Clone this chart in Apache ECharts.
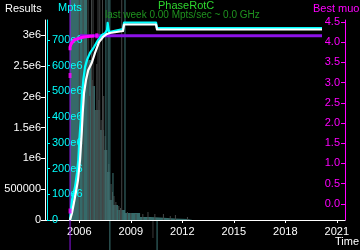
<!DOCTYPE html>
<html><head><meta charset="utf-8">
<script src="https://cdn.jsdelivr.net/npm/echarts@6/dist/echarts.min.js"></script>
<style>html,body{margin:0;padding:0;background:#000}#c{width:360px;height:250px}</style>
</head><body><div id="c"></div>
<script>
// ---- tick labels ----
const yearTicks = [2006, 2009, 2012, 2015, 2018, 2021];
const resultsTicks = [0, 500000, 1000000, 1500000, 2000000, 2500000, 3000000];
const resultsTickLabels = ['0', '500000', '1e6', '1.5e6', '2e6', '2.5e6', '3e6'];
const mptsTicks = [0, 100e6, 200e6, 300e6, 400e6, 500e6, 600e6, 700e6];
const mptsTickLabels = ['0', '100e6', '200e6', '300e6', '400e6', '500e6', '600e6', '700e6'];
const muonTicks = [0, 0.5, 1, 1.5, 2, 2.5, 3, 3.5, 4, 4.5];
const muonTickLabels = ['0.0', '0.5', '1.0', '1.5', '2.0', '2.5', '3.0', '3.5', '4.0', '4.5'];

// ---- cumulative results (white) [year, results] ----
const resultsData = [
  [2005.457, 0], [2005.573, 114000], [2005.748, 374000], [2005.923, 650000],
  [2006.040, 975000], [2006.139, 1414000], [2006.197, 1739000], [2006.273, 2064000],
  [2006.389, 2275000], [2006.523, 2438000], [2006.721, 2551000], [2006.914, 2714000],
  [2007.147, 2890000], [2007.380, 2974000], [2007.613, 3023000], [2007.788, 3039000],
  [2008.545, 3071000], [2008.604, 3177000], [2010.469, 3177000], [2010.527, 3096000],
  [2020.140, 3096000]
];
// ---- cumulative Mpts (cyan) [year, points] ----
const mptsData = [
  [2005.457, 0], [2005.573, 77.7e6], [2005.748, 128e6], [2005.865, 183e6],
  [2005.941, 233e6], [2005.999, 311e6], [2006.080, 389e6], [2006.139, 466e6],
  [2006.232, 544e6], [2006.331, 594e6], [2006.448, 622e6], [2006.622, 649e6],
  [2006.855, 672e6], [2007.089, 699e6], [2007.322, 719e6], [2007.497, 726e6],
  [2007.613, 738e6], [2007.650, 766e6], [2007.690, 766e6], [2007.730, 730e6],
  [2008.545, 742e6], [2008.604, 767e6], [2010.469, 767e6], [2010.527, 746e6],
  [2020.140, 746e6]
];
// ---- best muon ----
const muonBestLine = [[2006.04, 4.16], [2020.14, 4.16]];          // purple
const muonStartLine = [[2005.46, 9], [2005.46, -9]];              // purple vertical
const muonCurve = [
  [2005.46, 3.80], [2005.46, 3.88], [2005.52, 3.956], [2005.57, 4.005], [2005.69, 4.055],
  [2005.86, 4.08], [2006.04, 4.104], [2006.27, 4.129], [2006.51, 4.141], [2006.86, 4.154]
];
const muonPoints = [[2005.46, -0.177], [2005.46, 3.176], [2007.02, 4.16]];

// ---- activity histogram (relative, 100 = top of plot) ----
const activityArea = [
  [2005.45, 110], [2006.45, 80], [2006.69, 67], [2006.91, 55], [2007.21, 45],
  [2007.44, 35], [2007.62, 24], [2007.76, 10], [2007.96, 7.5], [2008.25, 5],
  [2008.66, 3.5], [2009.54, 1.5], [2010.12, 1.2], [2010.70, 0.8], [2011.58, 0.5],
  [2012.30, 0.3], [2012.60, 0]
];
const activityGray = [
  [2006.00, 110], [2006.22, 110], [2006.51, 110], [2006.60, 62], [2006.71, 110],
  [2006.75, 70], [2006.80, 110], [2006.93, 55], [2007.02, 78], [2007.09, 110],
  [2007.14, 60], [2007.19, 110], [2007.27, 50], [2007.35, 110], [2007.42, 62],
  [2007.50, 42], [2007.60, 35], [2007.72, 28], [2007.85, 18], [2007.93, 14],
  [2008.02, 12], [2008.13, 9], [2008.30, 7], [2008.40, 6], [2008.47, 110],
  [2008.80, 4], [2009.00, 3.5], [2009.30, 3], [2009.70, 3], [2010.00, 4],
  [2010.40, 3], [2010.90, 3], [2011.30, 2], [2011.60, 2.5], [2012.30, 1.5]
];
const activityTealUp = [
  [2007.55, 110], [2007.68, 110], [2007.78, 110], [2007.96, 23.5], [2008.66, 110]
];
const activityTealDown = [[2007.78, -15], [2010.53, -15]];
const activityGrayDown = [[2010.29, -9]];

const FONT = 'Liberation Sans';
const chart = echarts.init(document.getElementById('c'));
const fmt = (ticks, labels) => (v) => { const i = ticks.findIndex(t => Math.abs(t - v) < 1e-6 * Math.max(1, Math.abs(t))); return i >= 0 ? labels[i] : ''; };

chart.setOption({
  backgroundColor: '#000',
  animation: false,
  grid: { left: 45, right: 15, top: 20, bottom: 30 },
  xAxis: {
    type: 'value', min: 2004, max: 2021.48, z: 3,
    axisLine: { onZero: false, lineStyle: { color: '#fff', width: 1 } },
    axisTick: { show: true, length: 3, customValues: yearTicks, lineStyle: { color: '#fff' } },
    axisLabel: { customValues: yearTicks, margin: 6, color: '#fff', fontFamily: FONT, fontSize: 11, formatter: v => String(Math.round(v)) },
    splitLine: { show: false }
  },
  yAxis: [
    { type: 'value', position: 'left', min: 0, max: 3250000, z: 3,
      axisLine: { show: true, onZero: false, lineStyle: { color: '#fff' } },
      axisTick: { show: true, length: 4, customValues: resultsTicks, lineStyle: { color: '#fff' } },
      axisLabel: { customValues: resultsTicks, margin: 4, color: '#fff', fontFamily: FONT, fontSize: 11, formatter: fmt(resultsTicks, resultsTickLabels) },
      splitLine: { show: false } },
    { type: 'value', position: 'left', offset: -2, min: 0, max: 777e6, z: 3,
      axisLine: { show: true, onZero: false, lineStyle: { color: '#00ffff' } },
      axisTick: { show: true, inside: true, length: 3, customValues: mptsTicks, lineStyle: { color: '#00ffff' } },
      axisLabel: { inside: true, customValues: mptsTicks, margin: 5, color: '#00ffff', fontFamily: FONT, fontSize: 11, formatter: fmt(mptsTicks, mptsTickLabels) },
      splitLine: { show: false } },
    { type: 'value', position: 'right', min: -0.4, max: 4.55, z: 3,
      axisLine: { show: true, onZero: false, lineStyle: { color: '#ff00ff' } },
      axisTick: { show: true, inside: true, length: 4, customValues: muonTicks, lineStyle: { color: '#ff00ff' } },
      axisLabel: { inside: true, customValues: muonTicks, margin: 5, color: '#ff00ff', fontFamily: FONT, fontSize: 11, formatter: fmt(muonTicks, muonTickLabels) },
      splitLine: { show: false } },
    { type: 'value', show: false, min: 0, max: 100, splitLine: { show: false } }
  ],
  graphic: [
    { type: 'text', z: 20, left: 5, top: 3, style: { text: 'Results', fill: '#fff', font: '11px "Liberation Sans"' } },
    { type: 'text', z: 20, left: 58, top: 2, style: { text: 'Mpts', fill: '#00ffff', font: '11px "Liberation Sans"' } },
    { type: 'text', z: 20, left: 158, top: 0, style: { text: 'PhaseRotC', fill: '#2ed62e', font: '11px "Liberation Sans"' } },
    { type: 'text', z: 20, left: 105, top: 10, style: { text: 'last week 0.00 Mpts/sec ~ 0.0 GHz', fill: '#1f931f', font: '10px "Liberation Sans"' } },
    { type: 'text', z: 20, left: 313, top: 3, style: { text: 'Best muon', fill: '#ff00ff', font: '11px "Liberation Sans"' } },
    { type: 'text', z: 20, left: 335, top: 236, style: { text: 'Time', fill: '#fff', font: '11px "Liberation Sans"' } }
  ],
  series: [
    { type: 'line', yAxisIndex: 3, data: activityArea, step: 'end', symbol: 'none', clip: false,
      lineStyle: { width: 0 }, areaStyle: { color: '#356a69', opacity: 1 }, z: 1 },
    { type: 'bar', yAxisIndex: 3, data: activityGray, barWidth: 1, clip: false, itemStyle: { color: '#424646' }, z: 2 },
    { type: 'bar', yAxisIndex: 3, data: activityGrayDown, barWidth: 1, clip: false, itemStyle: { color: '#3a3a3a' }, z: 2 },
    { type: 'bar', yAxisIndex: 3, data: activityTealUp, barWidth: 1, clip: false, itemStyle: { color: '#3d7676' }, z: 2 },
    { type: 'bar', yAxisIndex: 3, data: activityTealDown, barWidth: 1, clip: false, barGap: '-100%', itemStyle: { color: '#3d7676' }, z: 2 },
    { type: 'line', yAxisIndex: 2, data: muonStartLine, symbol: 'none', clip: false, lineStyle: { color: '#8c12e8', width: 1 }, z: 4 },
    { type: 'line', yAxisIndex: 2, data: muonBestLine, symbol: 'none', lineStyle: { color: '#8c12e8', width: 3 }, z: 4 },
    { type: 'line', yAxisIndex: 2, data: muonCurve, symbol: 'none', lineStyle: { color: '#ff00ff', width: 3, join: 'round' }, z: 5 },
    { type: 'line', yAxisIndex: 1, data: mptsData, symbol: 'none', lineStyle: { color: '#00ffff', width: 2.2, join: 'round', miterLimit: 1 }, z: 6 },
    { type: 'line', yAxisIndex: 0, data: resultsData, symbol: 'none', lineStyle: { color: '#ffffff', width: 2.2, join: 'round', miterLimit: 1 }, z: 6 },
    { type: 'scatter', yAxisIndex: 2, data: muonPoints, symbol: 'rect', symbolSize: [3, 5], itemStyle: { color: '#ff00ff' }, z: 7 }
  ]
});
</script></body></html>
